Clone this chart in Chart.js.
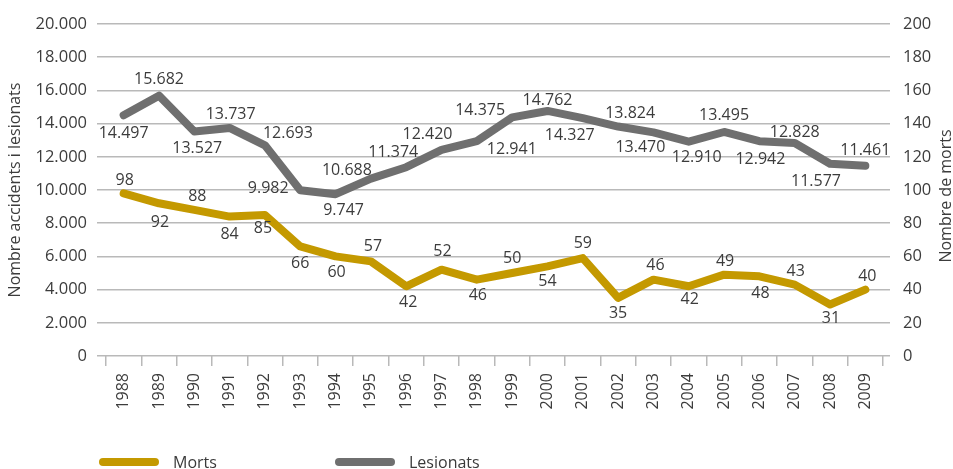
<!DOCTYPE html>
<html>
<head>
<meta charset="utf-8">
<script src="https://cdn.jsdelivr.net/npm/chart.js@4.4.1/dist/chart.umd.min.js"></script>
<style>
  html, body { margin: 0; padding: 0; background: #fff; }
  #wrap { position: relative; width: 953px; height: 469px; }
  #chart { display: block; }
  #legend { position: absolute; left: 99px; top: 451px; display: flex; font: 16px "Open Sans", sans-serif; color: #3a3a3a; }
  .item { display: flex; align-items: center; width: 236px; height: 22px; }
  .swatch { width: 60px; height: 8px; border-radius: 4px; margin-right: 14px; }
</style>
</head>
<body>
<div id="wrap">
  <canvas id="chart" width="953" height="469"></canvas>
  <div id="legend"></div>
</div>
<script>
const years = ['1988', '1989', '1990', '1991', '1992', '1993', '1994', '1995', '1996', '1997', '1998',
  '1999', '2000', '2001', '2002', '2003', '2004', '2005', '2006', '2007', '2008', '2009']

const morts = [98, 92, 88, 84, 85, 66, 60, 57, 42, 52, 46, 50, 54, 59, 35, 46, 42, 49, 48, 43, 31, 40]

const lesionats = [14497, 15682, 13527, 13737, 12693, 9982, 9747, 10688, 11374, 12420, 12941,
  14375, 14762, 14327, 13824, 13470, 12910, 13495, 12942, 12828, 11577, 11461]

// label nudges (px from the point) so they sit where the original put them
const mortsLabelShift = [[1, -13], [1, 19], [3, -13], [0, 18], [-2, 14], [0, 17], [1, 16], [2, -15],
  [2, 16], [1, -18], [1, 16], [0, -15], [0, 15], [0, -15], [0, 16], [2, -14], [1, 13], [1, -13],
  [1, 17], [1, -13], [1, 14], [2, -13]]
const lesionatsLabelShift = [[0, 18], [0, -16], [3, 17], [1, -14], [23, -12], [-32, -2], [8, 16],
  [-24, -8], [-13, -15], [-14, -15], [35, 8], [-32, -7], [0, -11], [-13, 17], [12, -13], [-13, 15],
  [8, 16], [0, -17], [1, 18], [0, -11], [-14, 18], [0, -15]]

const GOLD = '#c49900'
const GREY = '#6f6f6f'
const TEXT = '#3c3c3c'
const GRID = '#b9b9b9'
const FONT = '"Open Sans", sans-serif'

const fmt = (v) => String(v).replace(/\B(?=(\d{3})+(?!\d))/g, '.')

const pointLabels = {
  id: 'pointLabels',
  afterDatasetsDraw(chart) {
    const ctx = chart.ctx
    ctx.save()
    ctx.font = '16px ' + FONT
    ctx.fillStyle = TEXT
    ctx.textAlign = 'center'
    ctx.textBaseline = 'middle'
    chart.data.datasets.forEach((ds, i) => {
      chart.getDatasetMeta(i).data.forEach((pt, j) => {
        const [dx, dy] = ds.labelShift[j]
        ctx.fillText(fmt(ds.data[j]), pt.x + dx, pt.y + dy)
      })
    })
    ctx.restore()
  }
}

// Chart.js turns right-hand titles the other way, so this one is drawn by hand
const rightTitle = {
  id: 'rightTitle',
  afterDraw(chart) {
    const { ctx, chartArea } = chart
    ctx.save()
    ctx.translate(946, (chartArea.top + chartArea.bottom) / 2 + 6)
    ctx.rotate(-Math.PI / 2)
    ctx.font = '16px ' + FONT
    ctx.fillStyle = TEXT
    ctx.textAlign = 'center'
    ctx.textBaseline = 'middle'
    ctx.fillText('Nombre de morts', 0, 0)
    ctx.restore()
  }
}

const chart = new Chart(document.getElementById('chart'), {
  type: 'line',
  data: {
    labels: years,
    datasets: [
      {
        label: 'Morts',
        data: morts,
        yAxisID: 'y1',
        borderColor: GOLD,
        backgroundColor: GOLD,
        labelShift: mortsLabelShift
      },
      {
        label: 'Lesionats',
        data: lesionats,
        yAxisID: 'y',
        borderColor: GREY,
        backgroundColor: GREY,
        labelShift: lesionatsLabelShift
      }
    ]
  },
  options: {
    responsive: false,
    animation: false,
    layout: { padding: { top: 24, left: 0, right: 0, bottom: 0 } },
    elements: {
      line: { borderWidth: 8, tension: 0, borderCapStyle: 'round', borderJoinStyle: 'round' },
      point: { radius: 0, hoverRadius: 0 }
    },
    plugins: {
      legend: { display: false },
      tooltip: { enabled: false }
    },
    scales: {
      x: {
        offset: true,
        afterFit: (scale) => { scale.height = 113 },
        border: { display: false },
        grid: { drawOnChartArea: false, drawTicks: true, tickLength: 10, color: GRID, lineWidth: 1.5, offset: true },
        ticks: {
          color: TEXT,
          font: { family: FONT, size: 16 },
          minRotation: 90,
          maxRotation: 90,
          padding: 7,
          autoSkip: false
        }
      },
      y: {
        position: 'left',
        min: 0,
        max: 20000,
        afterFit: (scale) => { scale.width = 106 },
        border: { display: false },
        grid: { color: GRID, lineWidth: 1.5, drawTicks: true, tickLength: 9 },
        ticks: {
          stepSize: 2000,
          color: TEXT,
          font: { family: FONT, size: 16.5 },
          padding: 10,
          callback: (v) => fmt(v)
        },
        title: {
          display: true,
          text: 'Nombre accidents i lesionats',
          color: TEXT,
          font: { family: FONT, size: 16 },
          padding: { top: 6, bottom: 0 }
        }
      },
      y1: {
        position: 'right',
        min: 0,
        max: 200,
        afterFit: (scale) => { scale.width = 70 },
        border: { display: false },
        grid: { drawOnChartArea: false, color: GRID, lineWidth: 1.5, drawTicks: true, tickLength: 7 },
        ticks: {
          stepSize: 20,
          color: TEXT,
          font: { family: FONT, size: 16.5 },
          padding: 13
        }
      }
    }
  },
  plugins: [pointLabels, rightTitle]
})

// legend sits in HTML so the two entries can be spread out like the original
const legend = document.getElementById('legend')
chart.data.datasets.forEach((ds) => {
  const item = document.createElement('div')
  item.className = 'item'
  const sw = document.createElement('span')
  sw.className = 'swatch'
  sw.style.background = ds.borderColor
  const label = document.createElement('span')
  label.textContent = ds.label
  item.appendChild(sw)
  item.appendChild(label)
  legend.appendChild(item)
})
</script>
</body>
</html>
